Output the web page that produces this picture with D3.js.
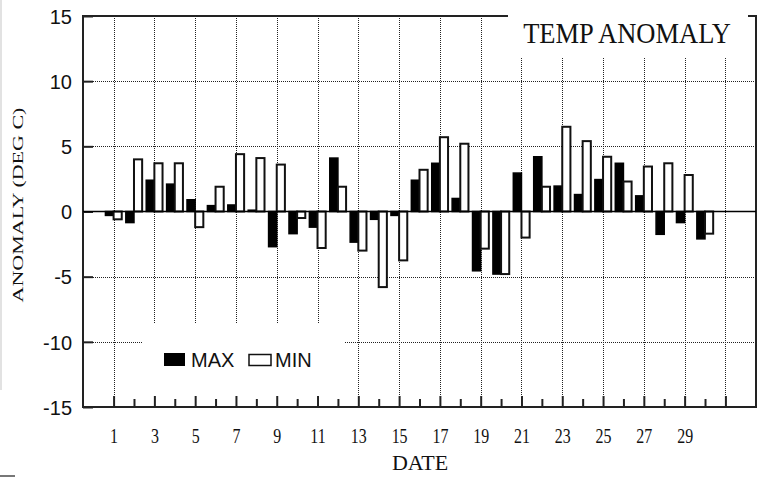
<!DOCTYPE html>
<html>
<head>
<meta charset="utf-8">
<script src="https://cdn.jsdelivr.net/npm/d3@7"></script>
<style>
  html, body { margin: 0; padding: 0; background: #fff; }
  svg { display: block; }
</style>
</head>
<body>
<svg id="chart" width="766" height="477"></svg>
<script>
// daily temperature anomalies (deg C)
const days = [1, 2, 3, 4, 5, 6, 7, 8, 9, 10, 11, 12, 13, 14, 15,
              16, 17, 18, 19, 20, 21, 22, 23, 24, 25, 26, 27, 28, 29, 30];
const maxVals = [-0.3, -0.85, 2.4, 2.1, 0.9, 0.45, 0.5, 0.1, -2.7, -1.7,
                 -1.2, 4.1, -2.35, -0.6, -0.3, 2.4, 3.7, 1.0, -4.55, -4.8,
                 2.95, 4.2, 1.95, 1.3, 2.45, 3.7, 1.2, -1.75, -0.85, -2.1];
const minVals = [-0.6, 4.0, 3.7, 3.7, -1.2, 1.9, 4.4, 4.1, 3.6, -0.5,
                 -2.8, 1.9, -3.0, -5.8, -3.75, 3.2, 5.7, 5.2, -2.85, -4.8,
                 -2.0, 1.9, 6.5, 5.4, 4.2, 2.3, 3.45, 3.7, 2.8, -1.7];
const yTicks = [-15, -10, -5, 0, 5, 10, 15];
const yGrid = [-10, -5, 5, 10];
const xMajor = [1, 3, 5, 7, 9, 11, 13, 15, 17, 19, 21, 23, 25, 27, 29, 31];
const xMinor = [2, 4, 6, 8, 10, 12, 14, 16, 18, 20, 22, 24, 26, 28, 30];
const xLabels = [1, 3, 5, 7, 9, 11, 13, 15, 17, 19, 21, 23, 25, 27, 29];

const svg = d3.select('#chart');
const pLeft = 83, pRight = 756, pTop = 16, pBottom = 407;
const serif = '"Liberation Serif", "Times New Roman", serif';
const sans = '"Liberation Sans", Arial, sans-serif';

const x = d3.scaleLinear().domain([-0.5, 32.5]).range([pLeft, pRight]);
const y = d3.scaleLinear().domain([-15, 15]).range([pBottom, pTop]);
const barW = 0.4;

// image edge bits
svg.append('line').attr('x1', 1).attr('x2', 1).attr('y1', 0).attr('y2', 390)
    .attr('stroke', '#e2e2e2').attr('stroke-width', 2);
svg.append('line').attr('x1', 0).attr('x2', 15).attr('y1', 476).attr('y2', 476)
    .attr('stroke', '#777').attr('stroke-width', 2);

// dotted grid
const grid = svg.append('g')
    .attr('stroke', '#222').attr('stroke-width', 1).attr('stroke-dasharray', '1,1');
grid.selectAll('.gx').data(xMajor).join('line')
    .attr('x1', d => Math.round(x(d)) + 0.5).attr('x2', d => Math.round(x(d)) + 0.5)
    .attr('y1', pTop).attr('y2', pBottom);
grid.selectAll('.gy').data(yGrid).join('line')
    .attr('x1', pLeft).attr('x2', pRight)
    .attr('y1', d => Math.round(y(d)) + 0.5).attr('y2', d => Math.round(y(d)) + 0.5);

// frame
svg.append('rect')
    .attr('x', pLeft).attr('y', pTop)
    .attr('width', pRight - pLeft).attr('height', pBottom - pTop)
    .attr('fill', 'none').attr('stroke', '#222').attr('stroke-width', 2);

// boxes that mask the grid behind title and legend
svg.append('rect').attr('x', 508).attr('y', 0).attr('width', 240).attr('height', 58)
    .attr('fill', '#fff');
svg.append('rect').attr('x', 143).attr('y', 323).attr('width', 202).attr('height', 82)
    .attr('fill', '#fff');

// axes
const yAxis = svg.append('g')
    .attr('transform', `translate(${pLeft},0)`)
    .call(d3.axisLeft(y).tickValues(yTicks).tickSize(-10).tickPadding(11).tickFormat(d => String(d)));
yAxis.select('.domain').remove();
yAxis.selectAll('line').attr('stroke', '#222').attr('stroke-width', 2);
yAxis.selectAll('text')
    .attr('font-family', sans).attr('font-size', 20).attr('fill', '#111')
    .attr('dy', '0.36em');

const xMinorAxis = svg.append('g')
    .attr('transform', `translate(0,${pBottom})`)
    .call(d3.axisBottom(x).tickValues(xMinor).tickSize(-8).tickFormat(''));
xMinorAxis.select('.domain').remove();
xMinorAxis.selectAll('line').attr('stroke', '#222').attr('stroke-width', 2);

const xAxis = svg.append('g')
    .attr('transform', `translate(0,${pBottom})`)
    .call(d3.axisBottom(x).tickValues(xMajor).tickSize(-11).tickPadding(21)
        .tickFormat(d => xLabels.includes(d) ? d : ''));
xAxis.select('.domain').remove();
xAxis.selectAll('line').attr('stroke', '#222').attr('stroke-width', 2);
xAxis.selectAll('text')
    .attr('font-family', serif).attr('font-size', 21).attr('fill', '#111')
    .attr('transform', 'scale(0.76,1)');

// bars
const rows = days.map((d, i) => ({ day: d, max: maxVals[i], min: minVals[i] }));
svg.append('g').selectAll('rect').data(rows).join('rect')
    .attr('x', d => x(d.day - barW))
    .attr('width', x(barW) - x(0))
    .attr('y', d => y(Math.max(0, d.max)))
    .attr('height', d => Math.abs(y(d.max) - y(0)))
    .attr('fill', '#000').attr('stroke', '#000').attr('stroke-width', 1.5);
svg.append('g').selectAll('rect').data(rows).join('rect')
    .attr('x', d => x(d.day))
    .attr('width', x(barW) - x(0))
    .attr('y', d => y(Math.max(0, d.min)))
    .attr('height', d => Math.abs(y(d.min) - y(0)))
    .attr('fill', '#fff').attr('stroke', '#111').attr('stroke-width', 2);

// zero line
svg.append('line')
    .attr('x1', pLeft).attr('x2', pRight).attr('y1', y(0)).attr('y2', y(0))
    .attr('stroke', '#000').attr('stroke-width', 1.5);

// title
svg.append('text')
    .attr('transform', 'translate(627,43) scale(1,1.08)')
    .attr('text-anchor', 'middle')
    .attr('font-family', serif).attr('font-size', 26.5).attr('fill', '#111')
    .text('TEMP ANOMALY');

// axis titles
svg.append('text')
    .attr('transform', 'translate(420,470)')
    .attr('text-anchor', 'middle')
    .attr('font-family', serif).attr('font-size', 22).attr('fill', '#111')
    .text('DATE');
svg.append('text')
    .attr('transform', 'translate(23,205) rotate(-90) scale(1,0.66)')
    .attr('text-anchor', 'middle')
    .attr('font-family', serif).attr('font-size', 22).attr('fill', '#111')
    .text('ANOMALY (DEG C)');

// legend
const legend = svg.append('g');
legend.append('rect').attr('x', 164).attr('y', 353).attr('width', 21).attr('height', 13)
    .attr('fill', '#000');
legend.append('text').attr('x', 191).attr('y', 367)
    .attr('font-family', sans).attr('font-size', 20).attr('fill', '#111')
    .text('MAX');
legend.append('rect').attr('x', 249).attr('y', 354.5).attr('width', 22).attr('height', 11)
    .attr('fill', '#fff').attr('stroke', '#111').attr('stroke-width', 1.5);
legend.append('text').attr('x', 275).attr('y', 367)
    .attr('font-family', sans).attr('font-size', 20).attr('fill', '#111')
    .text('MIN');
</script>
</body>
</html>
